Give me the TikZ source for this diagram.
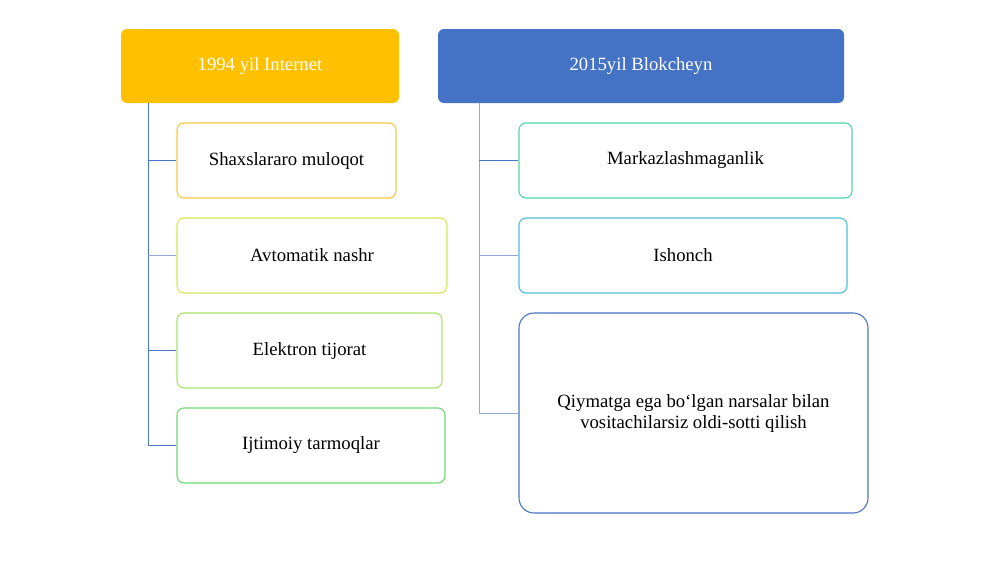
\documentclass[tikz,border=0pt]{standalone}
\usepackage{fontspec}
\setmainfont{Liberation Serif}
\definecolor{hdrY}{HTML}{FFC000}
\definecolor{hdrB}{HTML}{4472C4}
\definecolor{bA}{HTML}{F7C846}
\definecolor{bB}{HTML}{D3E85C}
\definecolor{bC}{HTML}{A8E26C}
\definecolor{bD}{HTML}{6FDA72}
\definecolor{bE}{HTML}{50D6AC}
\definecolor{bF}{HTML}{4FBCD6}
\definecolor{bG}{HTML}{4A74C6}
\definecolor{lnA}{HTML}{4A74C6}
\definecolor{lnB}{HTML}{8FA8D9}
\begin{document}
\begin{tikzpicture}[x=1pt,y=-1pt,
  hdr/.style={rectangle,rounded corners=6pt,inner sep=0pt,text=white,font=\fontsize{18.7}{21}\selectfont},
  item/.style={rectangle,rounded corners=7pt,draw,line width=1.1pt,fill=white,inner sep=0pt,font=\fontsize{18.7}{21}\selectfont,align=center},
  conn/.style={line width=1pt}]
\useasboundingbox (0,0) rectangle (1000,562);
\fill[white] (0,0) rectangle (1000,562);
% headers
\node[hdr,fill=hdrY,minimum width=278pt,minimum height=74pt] (h1) at (260,66) {1994 yil Internet};
\node[hdr,fill=hdrB,minimum width=406pt,minimum height=74pt] (h2) at (641,66) {2015yil Blokcheyn};
% left items
\node[item,draw=bA,minimum width=219pt,minimum height=75pt] (l1) at (286.5,160.5) {Shaxslararo muloqot};
\node[item,draw=bB,minimum width=270pt,minimum height=75pt] (l2) at (312,255.5) {Avtomatik nashr};
\node[item,draw=bC,minimum width=265pt,minimum height=75pt] (l3) at (309.5,350.5) {Elektron tijorat};
\node[item,draw=bD,minimum width=268pt,minimum height=75pt] (l4) at (311,445.5) {Ijtimoiy tarmoqlar};
% right items
\node[item,draw=bE,minimum width=333pt,minimum height=75pt] (r1) at (685.5,160.5) {Markazlashmaganlik};
\node[item,draw=bF,minimum width=328pt,minimum height=75pt] (r2) at (683,255.5) {Ishonch};
\node[item,draw=bG,rounded corners=15pt,minimum width=349pt,minimum height=200pt] (r3) at (693.5,413) {Qiymatga ega bo‘lgan narsalar bilan\\vositachilarsiz oldi-sotti qilish};
% connectors
\coordinate (lt) at (148,103);
\coordinate (rt) at (479,103);
\draw[conn,draw=lnA] (lt) |- (l4.west);
\draw[conn,draw=lnA] (lt |- l1.west) -- (l1.west);
\draw[conn,draw=lnB] (lt |- l2.west) -- (l2.west);
\draw[conn,draw=lnA] (lt |- l3.west) -- (l3.west);
\draw[conn,draw=lnB] (rt) |- (r3.west);
\draw[conn,draw=lnA] (rt |- r1.west) -- (r1.west);
\draw[conn,draw=lnB] (rt |- r2.west) -- (r2.west);
\end{tikzpicture}
\end{document}
